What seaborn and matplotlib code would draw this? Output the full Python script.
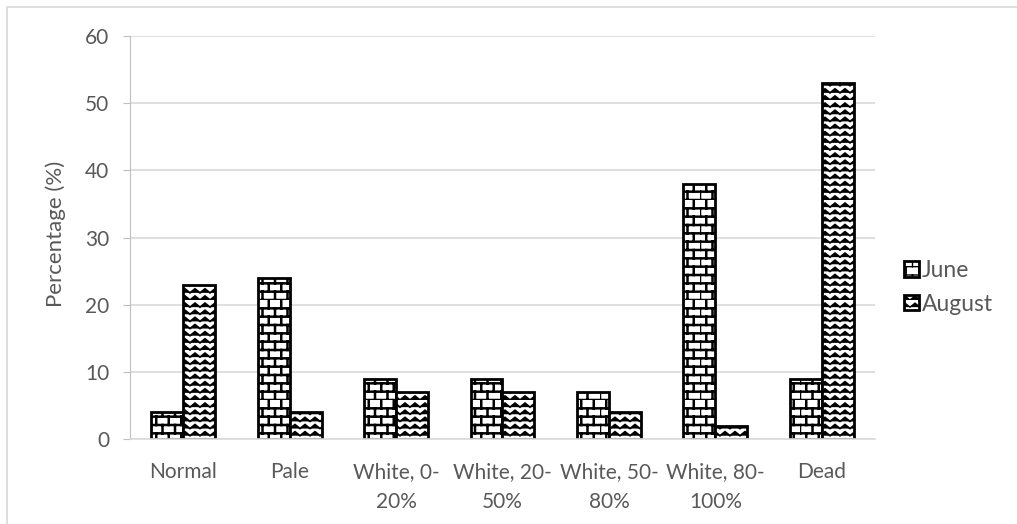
import warnings

import matplotlib.pyplot as plt
import numpy as np
import pandas as pd
import seaborn as sns
from matplotlib import hatch as mhatch
from matplotlib.lines import Line2D
from matplotlib.path import Path

warnings.filterwarnings("ignore")

# Datos
categorias = ["Normal", "Pale", "White, 0-\n20%", "White, 20-\n50%",
              "White, 50-\n80%", "White, 80-\n100%", "Dead"]
junio = [4, 24, 9, 9, 7, 38, 9]
agosto = [23, 4, 7, 7, 4, 2, 53]
series = ["June", "August"]
yticks = [0, 10, 20, 30, 40, 50, 60]


# Tramas tipo Excel: ladrillo ("B") y ondas ("W")
class BrickHatch(mhatch.HatchPatternBase):
    def __init__(self, hatch, density):
        self.rows = 12 if "B" in hatch else 0
        self.cols = 8
        self.num_vertices = self.rows * (2 + 2 * self.cols)

    def set_vertices_and_codes(self, vertices, codes):
        i = 0
        for r in range(self.rows):
            y = r / self.rows
            vertices[i] = (0, y)
            codes[i] = Path.MOVETO
            vertices[i + 1] = (1, y)
            codes[i + 1] = Path.LINETO
            i += 2
            offset = 0.5 / self.cols if r % 2 else 0
            for c in range(self.cols):
                x = c / self.cols + offset
                vertices[i] = (x, y)
                codes[i] = Path.MOVETO
                vertices[i + 1] = (x, y + 1 / self.rows)
                codes[i + 1] = Path.LINETO
                i += 2


class WaveHatch(mhatch.HatchPatternBase):
    def __init__(self, hatch, density):
        self.rows = 14 if "W" in hatch else 0
        self.periods = 10
        self.num_vertices = self.rows * (2 * self.periods + 1)

    def set_vertices_and_codes(self, vertices, codes):
        i = 0
        amp = 0.04
        for r in range(self.rows):
            y = r / self.rows
            for j in range(2 * self.periods + 1):
                vertices[i] = (j / (2 * self.periods), y + (j % 2) * amp)
                codes[i] = Path.MOVETO if j == 0 else Path.LINETO
                i += 1


mhatch._hatch_types.extend([BrickHatch, WaveHatch])

df = pd.DataFrame({
    "Categoria": categorias * 2,
    "Valor": junio + agosto,
    "Serie": [series[0]] * len(junio) + [series[1]] * len(agosto),
})

sns.set_style("white")
plt.rcParams["font.family"] = ["Lato", "DejaVu Sans"]
plt.rcParams["hatch.color"] = "black"

gris_texto = "#595959"
gris_linea = "#d9d9d9"
tam = 15

fig = plt.figure(figsize=(10.17, 5.24), dpi=100)
ax = fig.add_axes([130 / 1017, 85 / 524, 745 / 1017, 403 / 524])

sns.barplot(data=df, x="Categoria", y="Valor", hue="Serie", width=0.6,
            legend=False, ax=ax)

tramas = ["B", "W"]
for cont, trama in zip(ax.containers, tramas):
    for barra in cont:
        barra.set_facecolor("white")
        barra.set_edgecolor("black")
        barra.set_linewidth(2)
        barra.set_hatch(trama)
        barra._hatch_linewidth = 1.8 if trama == "B" else 1.3

ax.set_ylim(0, 60)
ax.set_yticks(yticks)
ax.yaxis.grid(True, color=gris_linea, linewidth=1.2)
ax.set_axisbelow(True)
for lado in ["top", "right"]:
    ax.spines[lado].set_visible(False)
ax.spines["left"].set_color("#bfbfbf")
ax.spines["bottom"].set_color(gris_linea)
ax.spines["bottom"].set_linewidth(1.2)

ax.tick_params(axis="y", length=5, color="#bfbfbf", pad=10,
               labelsize=tam, labelcolor=gris_texto, left=True)
ax.tick_params(axis="x", length=0, pad=16.5, labelsize=tam, labelcolor=gris_texto)
for etiqueta in ax.get_xticklabels():
    etiqueta.set_linespacing(1.6)
ax.set_xlabel("")
ax.set_ylabel("Percentage (%)", fontsize=16, color=gris_texto)
ax.yaxis.set_label_coords(-0.086, 0.51)

ax.legend(ax.containers, series, loc="center left",
          bbox_to_anchor=(1.011, 0.376), frameon=False, fontsize=16.5,
          labelcolor=gris_texto, handlelength=0.65, handleheight=0.65,
          handletextpad=0.15, labelspacing=0.55)

# Marco superior e izquierdo de la figura
fig.add_artist(Line2D([7 / 1017, 1], [1 - 7 / 524, 1 - 7 / 524],
                      transform=fig.transFigure, color=gris_linea, linewidth=1.2))
fig.add_artist(Line2D([7 / 1017, 7 / 1017], [0, 1 - 7 / 524],
                      transform=fig.transFigure, color=gris_linea, linewidth=1.2))

fig.savefig("out.png", dpi=100)
